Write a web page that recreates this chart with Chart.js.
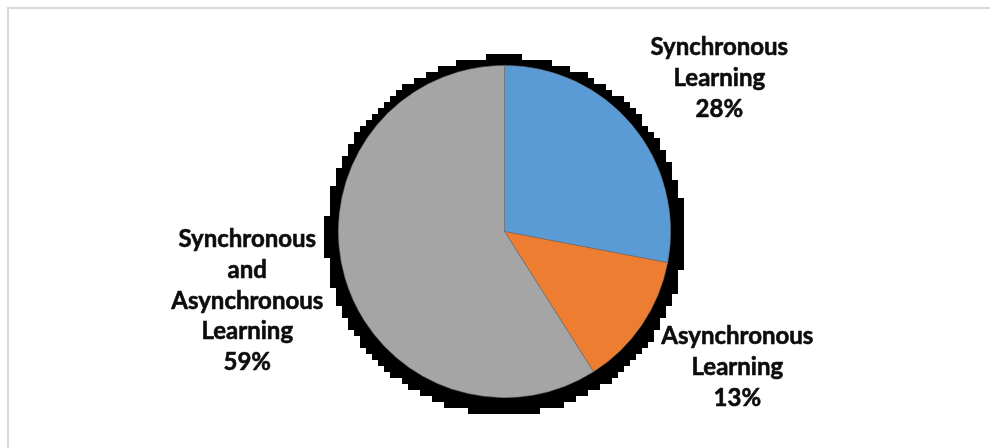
<!DOCTYPE html>
<html>
<head>
<meta charset="utf-8">
<script src="https://cdn.jsdelivr.net/npm/chart.js@4.4.1/dist/chart.umd.min.js"></script>
<style>
  html, body { margin: 0; padding: 0; background: #ffffff; }
  #wrap { width: 990px; height: 448px; position: relative; }
</style>
</head>
<body>
<div id="wrap"><canvas id="c"></canvas></div>
<script>
// ---- data ----
const categories = [
  ["Synchronous", "Learning"],
  ["Asynchronous", "Learning"],
  ["Synchronous", "and", "Asynchronous", "Learning"]
];
const values = [28, 13, 59];
const percentLabels = ["28%", "13%", "59%"];
const sliceColors = ["#5B9BD5", "#ED7D31", "#A5A5A5"];

// ---- styling / layout (not data) ----
const labelStyle = {
  font: "bold 24px Lato",
  color: "#0D0D0D",
  strokeWidth: 0.6,
  lineHeight: 30.7,
  capHalf: 8,
  distFactor: 1.6,
  nudges: [[10, 16], [13, -14], [-2, -5]]
};

const framePlugin = {
  id: 'frame',
  beforeDraw(chart) {
    const ctx = chart.ctx;
    ctx.save();
    ctx.fillStyle = '#ffffff';
    ctx.fillRect(0, 0, chart.width, chart.height);
    ctx.fillStyle = '#D9D9D9';
    ctx.fillRect(7, 7, chart.width - 7, 2);
    ctx.fillRect(7, 7, 2, chart.height - 7);
    ctx.restore();
  }
};

const shadowPlugin = {
  id: 'shadow',
  beforeDatasetsDraw(chart) {
    const meta = chart.getDatasetMeta(0);
    if (!meta.data.length) return;
    const arc = meta.data[0];
    const cx = arc.x + 0.5, cy = arc.y + 4, R = arc.outerRadius * 1.08;
    const ctx = chart.ctx;
    const step = 6;
    ctx.save();
    ctx.fillStyle = '#000000';
    for (let y = Math.floor((cy - R) / step) * step; y < cy + R; y += step) {
      const ym = y + step / 2;
      const dy = ym - cy;
      if (Math.abs(dy) >= R) continue;
      const hw = Math.sqrt(R * R - dy * dy);
      const x0 = Math.round((cx - hw) / step) * step;
      const x1 = Math.round((cx + hw) / step) * step;
      ctx.fillRect(x0, y, x1 - x0, step);
    }
    ctx.restore();
  }
};

const labelPlugin = {
  id: 'outLabels',
  afterDatasetsDraw(chart) {
    const meta = chart.getDatasetMeta(0);
    const ctx = chart.ctx;
    ctx.save();
    ctx.font = labelStyle.font;
    ctx.fillStyle = labelStyle.color;
    ctx.strokeStyle = labelStyle.color;
    ctx.lineWidth = labelStyle.strokeWidth;
    ctx.lineJoin = 'round';
    ctx.textAlign = 'center';
    ctx.textBaseline = 'alphabetic';
    meta.data.forEach((arc, i) => {
      const mid = (arc.startAngle + arc.endAngle) / 2;
      const d = arc.outerRadius * labelStyle.distFactor;
      const px = arc.x + Math.cos(mid) * d + labelStyle.nudges[i][0];
      const py = arc.y + Math.sin(mid) * d + labelStyle.nudges[i][1];
      const lines = categories[i].concat([percentLabels[i]]);
      const n = lines.length;
      lines.forEach((t, k) => {
        const y = py + (k - (n - 1) / 2) * labelStyle.lineHeight + labelStyle.capHalf;
        ctx.fillText(t, px, y);
        ctx.strokeText(t, px, y);
      });
    });
    ctx.restore();
  }
};

new Chart(document.getElementById('c'), {
  type: 'pie',
  data: {
    labels: categories.map(c => c.join(' ')),
    datasets: [{
      data: values,
      backgroundColor: sliceColors,
      borderColor: 'rgba(110,110,110,0.7)',
      borderWidth: 0.75
    }]
  },
  options: {
    responsive: true,
    maintainAspectRatio: false,
    devicePixelRatio: 1,
    animation: false,
    layout: { padding: { top: 65, bottom: 50, left: 19, right: 0 } },
    plugins: { legend: { display: false }, tooltip: { enabled: false } }
  },
  plugins: [framePlugin, shadowPlugin, labelPlugin]
});
</script>
</body>
</html>
